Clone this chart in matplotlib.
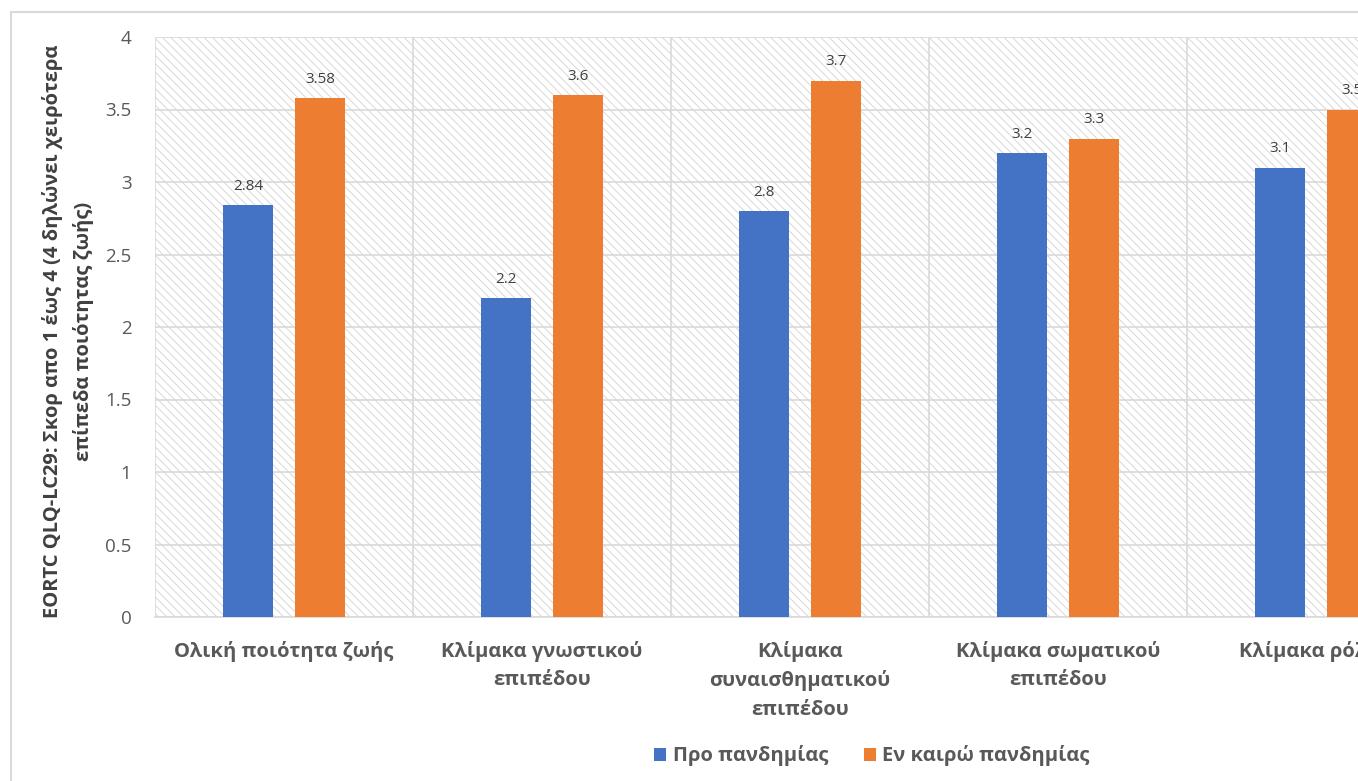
import matplotlib.pyplot as plt
import numpy as np
from matplotlib.patches import Patch, Rectangle

plt.rcParams['font.family'] = ['Open Sans', 'DejaVu Sans']
plt.rcParams['hatch.linewidth'] = 0.6

# Data
categories = ["Ολική ποιότητα ζωής", "Κλίμακα γνωστικού\nεπιπέδου",
              "Κλίμακα\nσυναισθηματικού\nεπιπέδου", "Κλίμακα σωματικού\nεπιπέδου",
              "Κλίμακα ρόλου"]
pre = [2.84, 2.2, 2.8, 3.2, 3.1]
during = [3.58, 3.6, 3.7, 3.3, 3.5]
pre_labels = ["2.84", "2.2", "2.8", "3.2", "3.1"]
during_labels = ["3.58", "3.6", "3.7", "3.3", "3.5"]
series_names = ["Προ πανδημίας", "Εν καιρώ πανδημίας"]

blue = '#4472C4'
orange = '#ED7D31'
grid_c = '#d9d9d9'
text_c = '#595959'

W, H = 1358, 781
fig = plt.figure(figsize=(W / 100, H / 100), dpi=100)

# outer chart border (runs off the right/bottom edge)
fig.patches.append(Rectangle((11 / W, -0.1), 2.0, (H - 12) / H + 0.1, transform=fig.transFigure,
                             fill=False, edgecolor=grid_c, linewidth=1.5))

left, bottom_px, top_px, cat_w = 155, 617, 37, 258
ax = fig.add_axes([left / W, (H - bottom_px) / H, 5 * cat_w / W, (bottom_px - top_px) / H])

# hatched plot-area background
ax.add_patch(Rectangle((0, 0), 1, 1, transform=ax.transAxes, facecolor='white',
                       edgecolor='#d2d2d2', hatch='\\\\\\\\', linewidth=0, zorder=0))

x = np.arange(len(categories))
bw = 50 / cat_w
off = 36 / cat_w
b1 = ax.bar(x - off, pre, bw, color=blue, zorder=3)
b2 = ax.bar(x + off, during, bw, color=orange, zorder=3)

for rect, lab in zip(b1, pre_labels):
    ax.annotate(lab, (rect.get_x() + rect.get_width() / 2, rect.get_height()), xytext=(0, 8),
                textcoords='offset points', ha='center', va='bottom', fontsize=11, color='#404040')
for rect, lab in zip(b2, during_labels):
    ax.annotate(lab, (rect.get_x() + rect.get_width() / 2, rect.get_height()), xytext=(0, 8),
                textcoords='offset points', ha='center', va='bottom', fontsize=11, color='#404040')

ax.set_xlim(-0.5, 4.5)
ax.set_ylim(0, 4)
ax.set_yticks(np.arange(0, 4.01, 0.5))
ax.set_yticklabels(["0", "0.5", "1", "1.5", "2", "2.5", "3", "3.5", "4"])
ax.set_xticks(x)
ax.set_xticklabels(categories, fontweight='bold', linespacing=1.55)
ax.set_xticks(np.arange(-0.5, 4.6, 1), minor=True)

ax.grid(axis='y', color=grid_c, linewidth=1.2, zorder=1)
ax.grid(axis='x', which='minor', color=grid_c, linewidth=1.2, zorder=1)
ax.grid(axis='x', which='major', visible=False)
ax.set_axisbelow(True)

ax.tick_params(axis='y', length=0, pad=17, labelsize=13.5, labelcolor=text_c)
ax.tick_params(axis='x', which='both', length=0, pad=17, labelsize=14.5, labelcolor=text_c)
for s in ['top', 'right', 'left']:
    ax.spines[s].set_visible(False)
ax.spines['bottom'].set_color(grid_c)
ax.spines['bottom'].set_linewidth(1.2)

fig.text(68 / W, (H - 331) / H,
         "EORTC QLQ-LC29: Σκορ απο 1 έως 4 (4 δηλώνει χειρότερα\nεπίπεδα ποιότητας ζωής)",
         rotation=90, ha='center', va='center', fontsize=14.5, fontweight='bold',
         color='#404040', linespacing=1.6)

handles = [Patch(facecolor=blue, label=series_names[0]),
           Patch(facecolor=orange, label=series_names[1])]
fig.legend(handles=handles, loc='center', bbox_to_anchor=(872 / W, (H - 756) / H), ncol=2,
           frameon=False, handlelength=0.6, handleheight=0.6, handletextpad=0.3,
           columnspacing=1.8, labelcolor=text_c, prop={'weight': 'bold', 'size': 14.5,
                                                        'family': ['Open Sans', 'DejaVu Sans']})

fig.savefig('out.png', dpi=100)
